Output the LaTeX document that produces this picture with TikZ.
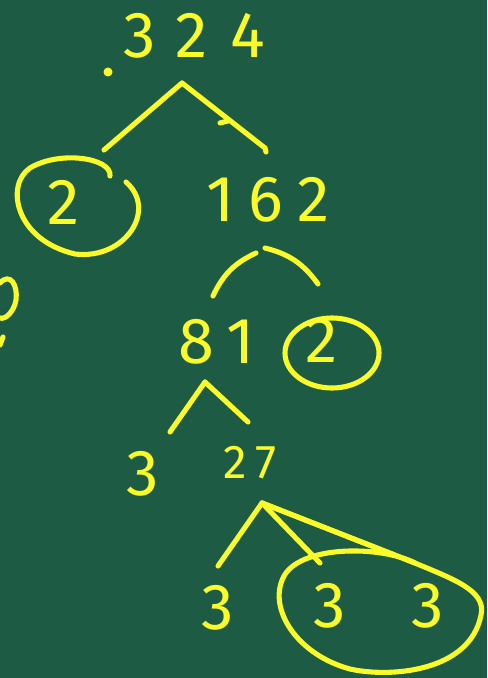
\documentclass[tikz,border=0pt]{standalone}
\usepackage{fontspec}
\setmainfont{Fira Sans}
\definecolor{board}{RGB}{30,91,69}
\definecolor{chalk}{RGB}{250,250,40}

\begin{document}
\begin{tikzpicture}[
    x=0.02cm,y=-0.02cm,
    num/.style={text=chalk,inner sep=0pt,font=\fontsize{37}{40}\selectfont},
    smallnum/.style={num,font=\fontsize{27}{30}\selectfont},
    branch/.style={draw=chalk,line width=2.9pt,line cap=round},
    ring/.style={draw=chalk,line width=2.9pt,line cap=round}
]
    \fill[board] (0,0) rectangle (487,678);
    \useasboundingbox (0,0) rectangle (487,678);

    % numbers of the tree
    \node[num] (n324) at (194,36) {3\hspace{11pt}2\hspace{13pt}4};
    \node[num] (f2a) at (64,202) {2};
    \node[num] (n162) at (268,200) {1\hspace{8pt}6\hspace{8pt}2};
    \node[num] (n81) at (217,342) {8\hspace{7pt}1};
    \node[num] (f2b) at (322,340) {2};
    \node[num] (f3a) at (143,474) {3};
    \node[smallnum] (n27) at (250,463) {2\hspace{5pt}7};
    \node[num] (f3b) at (218,608) {3};
    \node[num] (f3c) at (330,606) {3};
    \node[num] (f3d) at (428,606) {3};

    % branch points
    \coordinate (top324) at (182,83);
    \coordinate (top162) at (262,250);
    \coordinate (top81) at (205,382);
    \coordinate (top27) at (262,503);
    \coordinate (ring2b) at (332,353);

    \fill[chalk] (108,72) circle (4.5);

    \draw[branch] (top324) -- (104,150);
    \draw[branch] (top324) -- (265,148) -- (266,152);
    \draw[branch] (220,123) -- (228,121);

    \draw[branch] (213,296) to[bend left=20] (256,253);
    \draw[branch] (265,248) to[bend left=20] (318,284);

    \draw[branch] (top81) -- (170,432);
    \draw[branch] (top81) -- (248,422);

    \draw[branch] (top27) -- (218,566);
    \draw[branch] (top27) -- (320,563);
    \draw[branch] (top27) -- (415,563);

    % circled factors
    \draw[ring] (110,176) .. controls (112,158) and (60,150) .. (30,168)
        .. controls (5,185) and (15,240) .. (75,254)
        .. controls (125,260) and (158,210) .. (126,182);
    \draw[ring] (ring2b) ellipse (47 and 35);
    \draw[ring] (top27) -- (415,563)
        .. controls (450,578) and (487,590) .. (481,615)
        .. controls (470,672) and (390,678) .. (350,669)
        .. controls (298,655) and (268,610) .. (283,578)
        .. controls (298,545) and (380,545) .. (415,563);

    % cut-off marks at the left edge
    \draw[ring] (0,283) .. controls (10,272) and (18,285) .. (16,300)
        .. controls (14,312) and (5,320) .. (0,318);
    \draw[branch] (3,337) -- (0,345);
\end{tikzpicture}
\end{document}
